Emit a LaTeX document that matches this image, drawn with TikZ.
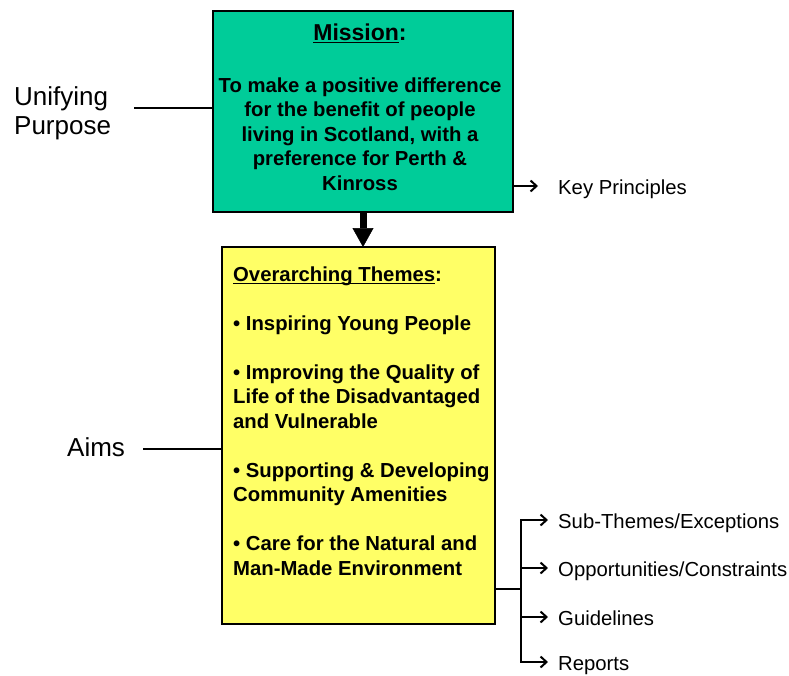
\documentclass[tikz,border=0pt]{standalone}
\usepackage{fontspec}
\setmainfont{Liberation Sans}
\usetikzlibrary{arrows.meta}
\definecolor{missiongreen}{RGB}{0,204,153}
\definecolor{themeyellow}{RGB}{255,255,102}
\newsavebox{\myulbox}
\newcommand{\thickul}[1]{\sbox{\myulbox}{#1}\rlap{\rule[-3.4pt]{\wd\myulbox}{1.7pt}}\usebox{\myulbox}}
\begin{document}
\begin{tikzpicture}[x=1pt,y=-1pt,
  box/.style={draw=black,line width=2pt,inner sep=0pt,outer sep=0pt},
  bodyc/.style={anchor=base,inner sep=0pt,font=\fontsize{20.3}{24}\selectfont\bfseries},
  bodyl/.style={anchor=base west,inner sep=0pt,font=\fontsize{20.3}{24}\selectfont\bfseries},
  sidelbl/.style={anchor=base west,inner sep=0pt,font=\fontsize{26}{29}\selectfont},
  lbl/.style={anchor=base west,inner sep=0pt,font=\fontsize{20.3}{24}\selectfont,text height=16pt,text depth=0pt},
  conn/.style={line width=2pt},
  arr/.style={line width=2pt,-{Straight Barb[length=6pt,width=11pt,line width=2pt]}},
  bigarr/.style={line width=7pt,-{Triangle[length=19pt,width=21pt,line width=0.5pt]}}]
\useasboundingbox (0,0) rectangle (789,675);

% boxes
\node[box,fill=missiongreen,minimum width=300pt,minimum height=201pt] (mission) at (363,111.5) {};
\node[box,fill=themeyellow,minimum width=273pt,minimum height=377pt] (themes) at (358.5,435.5) {};

% mission text
\node[bodyc,font=\fontsize{23}{27}\selectfont\bfseries] (mt) at (360,40) {\thickul{Mission}:};
\node[bodyc] (m1) at (360,92) {To make a positive difference};
\node[bodyc] (m2) at (360,116.5) {for the benefit of people};
\node[bodyc] (m3) at (360,141) {living in Scotland, with a};
\node[bodyc] (m4) at (360,165.5) {preference for Perth \&};
\node[bodyc] (m5) at (360,190) {Kinross};

% themes text
\node[bodyl] (t0) at (233,281) {\thickul{Overarching Themes}:};
\node[bodyl] (t1) at (233,330.5) {• Inspiring Young People};
\node[bodyl] (t2) at (233,379) {• Improving the Quality of};
\node[bodyl] (t3) at (233,403.5) {Life of the Disadvantaged};
\node[bodyl] (t4) at (233,428) {and Vulnerable};
\node[bodyl] (t5) at (233,477) {• Supporting \& Developing};
\node[bodyl] (t6) at (233,501.5) {Community Amenities};
\node[bodyl] (t7) at (233,550.5) {• Care for the Natural and};
\node[bodyl] (t8) at (233,575) {Man-Made Environment};

% left labels
\node[sidelbl] (u1) at (14,105) {Unifying};
\node[sidelbl] (u2) at (14,134) {Purpose};
\node[sidelbl] (aims) at (67,456) {Aims};
\coordinate (upL) at (134,108);
\coordinate (aimL) at (143,449);
\draw[conn] (upL) -- (upL -| mission.west);
\draw[conn] (aimL) -- (aimL -| themes.west);

% main arrow
\draw[bigarr] (mission.south) -- (mission.south |- themes.north);

% key principles
\node[lbl] (kp) at (558,194) {Key Principles};
\draw[arr] (kp.west -| mission.east) -- ([xshift=-20pt]kp.west);

% right labels
\node[lbl] (sub) at (558,528) {Sub-Themes/Exceptions};
\node[lbl] (opp) at (558,576) {Opportunities/Constraints};
\node[lbl] (gui) at (558,625) {Guidelines};
\node[lbl] (rep) at (558,670) {Reports};
\coordinate (j) at (521,589);
\draw[conn] (j -| themes.east) -- (j);
\draw[arr] (j) |- ([xshift=-10pt]sub.west);
\draw[arr] (j) |- ([xshift=-10pt]opp.west);
\draw[arr] (j) |- ([xshift=-10pt]gui.west);
\draw[arr] (j) |- ([xshift=-10pt]rep.west);
\end{tikzpicture}
\end{document}
